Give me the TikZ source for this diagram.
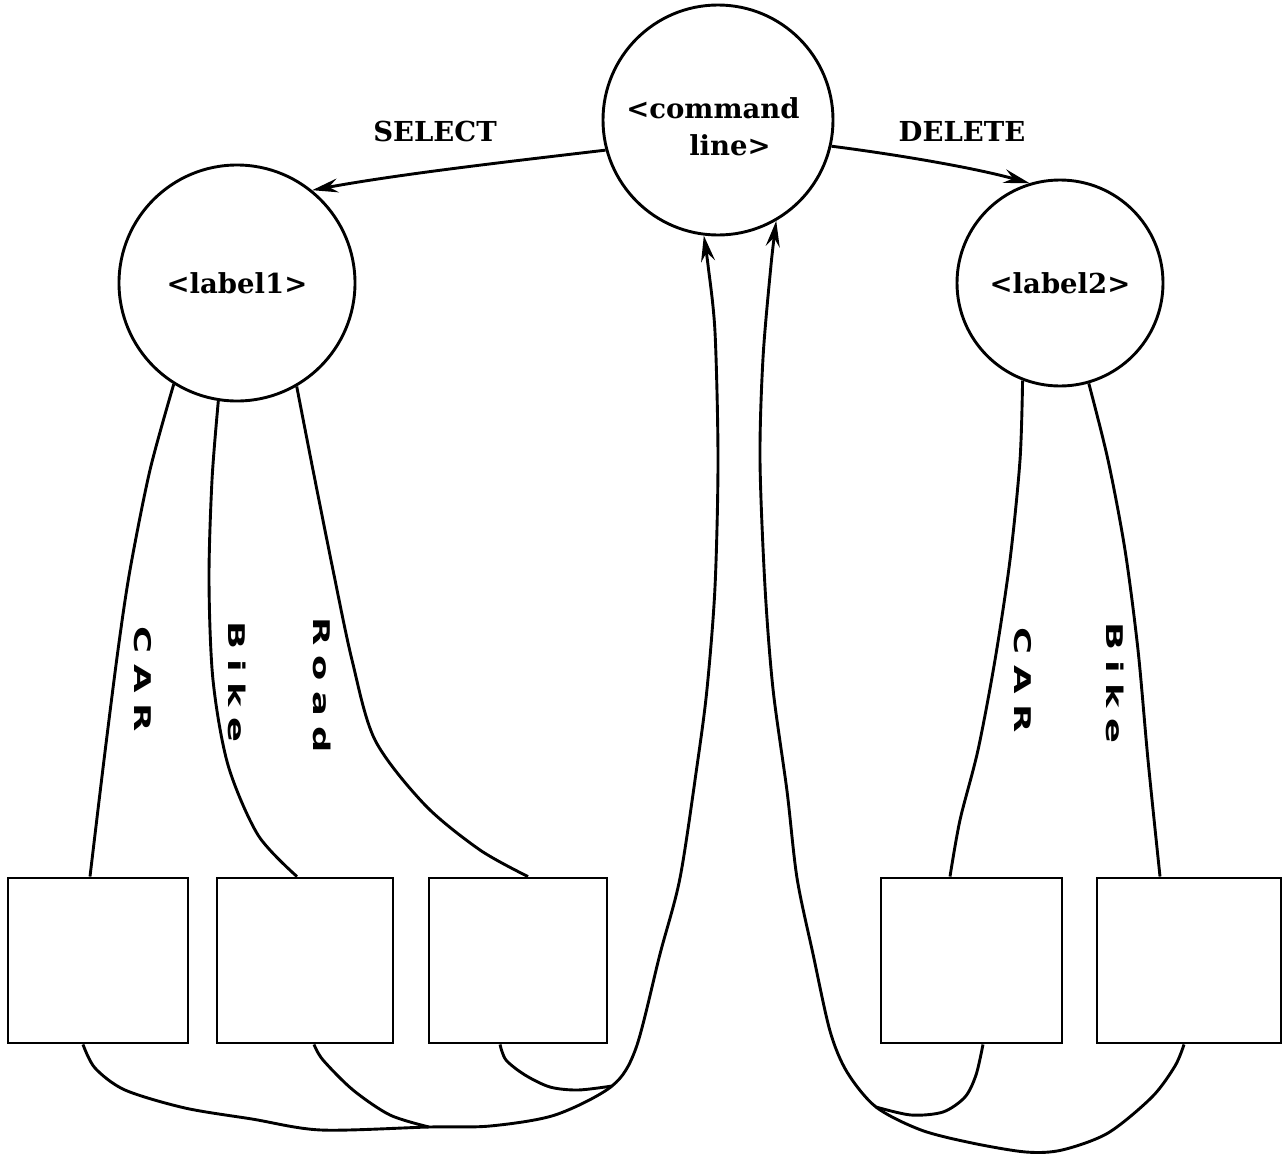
\documentclass[tikz,border=0pt]{standalone}
\usepackage{fontspec}
\setmainfont{DejaVu Serif}
\newfontfamily\edgefont[FakeStretch=1.6]{DejaVu Sans}
\usetikzlibrary{arrows.meta,calc}
\begin{document}
\begin{tikzpicture}[x=1pt,y=-1pt,line width=2.9pt,
  statecirc/.style={circle,draw,inner sep=0pt},
  slot/.style={rectangle,draw,minimum height=165pt,inner sep=0pt},
  boldtxt/.style={font=\bfseries\fontsize{27.5}{30}\selectfont,inner sep=0pt},
  edgetag/.style={font=\edgefont\bfseries\fontsize{23}{26}\selectfont,rotate=-90,inner sep=0pt},
  arrowed/.style={-{Stealth[length=26pt,width=14pt,inset=9pt]}}]
\useasboundingbox (0,0) rectangle (1284,1154);

% states
\node[statecirc,minimum size=230pt] (cmd) at (718,120) {};
\node[boldtxt] (cmdA) at (713,108) {<command};
\node[boldtxt] (cmdB) at (730,145) {line>};
\node[statecirc,boldtxt,minimum size=236pt] (l1) at (237,283) {<label1>};
\node[statecirc,boldtxt,minimum size=206pt] (l2) at (1060,283) {<label2>};

% commands
\node[boldtxt] (sel) at (435,131) {SELECT};
\node[boldtxt] (del) at (962,131) {DELETE};
\draw[arrowed] (cmd.195) .. controls (505,162) and (400,174) .. (l1.51);
\draw[arrowed] (cmd.347) .. controls (900,155) and (975,168) .. (l2.107);

% records
\node[slot,minimum width=180pt] (b1) at (98,960.5) {};
\node[slot,minimum width=176pt] (b2) at (305,960.5) {};
\node[slot,minimum width=178pt] (b3) at (518,960.5) {};
\node[slot,minimum width=181pt] (b4) at (971.5,960.5) {};
\node[slot,minimum width=184pt] (b5) at (1189,960.5) {};

% links from labels to records
\draw plot[smooth] coordinates {(l1.238) (150,470) (130,570) (118,650) (104,760) ([xshift=-8pt]b1.north)};
\draw plot[smooth] coordinates {(l1.261) (212,480) (209,580) (213,680) (228,765) (258,835) ([xshift=-8pt]b2.north)};
\draw plot[smooth] coordinates {(l1.300) (313,470) (333,570) (352,660) (375,740) (425,805) (480,850) ([xshift=10pt]b3.north)};
\draw plot[smooth] coordinates {(l2.249) (1020,460) (1010,560) (995,660) (978,750) (960,820) ([xshift=-21.5pt]b4.north)};
\draw plot[smooth] coordinates {(l2.286) (1108,460) (1125,550) (1138,650) (1148,760) ([xshift=-29pt]b5.north)};

\node[edgetag] (t1) at (143,679) {C\kern11pt A\kern11pt R};
\node[edgetag] (t2) at (237,682) {B\kern10pt i\kern10pt k\kern10pt e};
\node[edgetag] (t3) at (322,685) {R\kern10pt o\kern10pt a\kern10pt d};
\node[edgetag] (t4) at (1023,680) {C\kern11pt A\kern11pt R};
\node[edgetag] (t5) at (1115,683) {B\kern10pt i\kern10pt k\kern10pt e};

% returns to the command line
\coordinate (j1) at (429,1127);
\coordinate (j2) at (612,1086);
\coordinate (j3) at (876,1107);
\draw[arrowed] plot[smooth] coordinates {([xshift=-15pt]b1.south) (95,1068) (125,1090) (185,1108) (252,1119) (321,1130) (j1) (490,1126) (555,1115) (j2) (636,1048) (660,954) (680,878) (697,766) (707,689) (715,587) (718,460) (715,332) (708,265) (cmd.263)};
\draw plot[smooth] coordinates {([xshift=9pt]b2.south) (323,1060) (353,1090) (390,1115) (j1)};
\draw plot[smooth] coordinates {([xshift=-18pt]b3.south) (506,1060) (525,1075) (550,1087) (578,1090) (j2)};
\draw[arrowed] plot[smooth] coordinates {([xshift=-5pt]b5.south) (1175,1066) (1152,1097) (1108,1133) (1062,1150) (1026,1152) (972,1143) (921,1130) (j3) (847,1072) (830,1031) (813,954) (797,878) (787,791) (773,689) (765,587) (760,460) (763,358) (771,265) (cmd.300)};
\draw plot[smooth] coordinates {([xshift=11.5pt]b4.south) (976,1075) (965,1097) (943,1112) (911,1115) (j3)};
\end{tikzpicture}
\end{document}
